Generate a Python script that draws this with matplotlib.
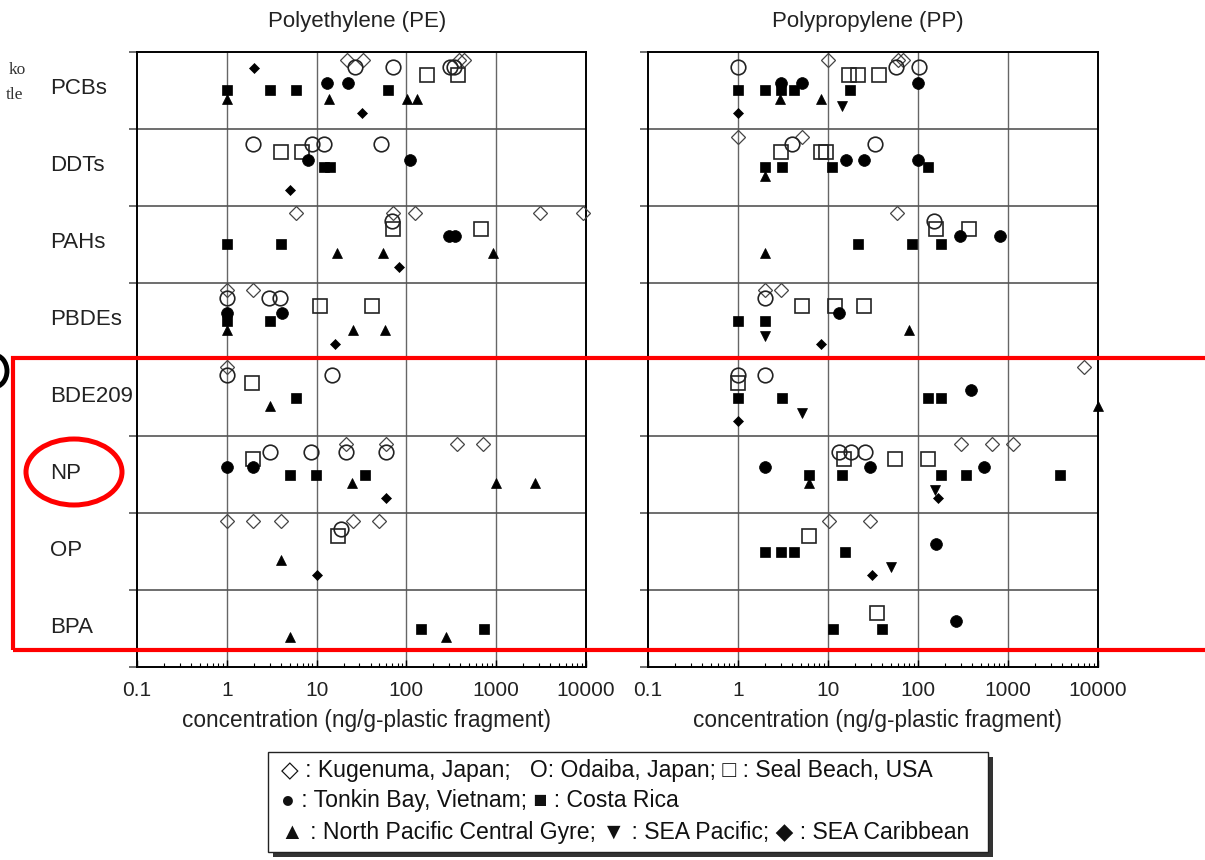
import numpy as np
import matplotlib.pyplot as plt
from matplotlib.patches import Rectangle, Ellipse

plt.rcParams['font.family'] = ['Liberation Sans', 'DejaVu Sans']

W, H = 1205, 860

categories = ['PCBs', 'DDTs', 'PAHs', 'PBDEs', 'BDE209', 'NP', 'OP', 'BPA']
tick_vals = [0.1, 1, 10, 100, 1000, 10000]
tick_labels = ['0.1', '1', '10', '100', '1000', '10000']

# ---- Polyethylene (PE), ng/g-plastic fragment ----
pe_kugenuma = {'PCBs': [22, 33, 385, 433], 'PAHs': [5.9, 71, 126, 3040, 9350],
               'PBDEs': [1, 1.95], 'BDE209': [1], 'NP': [21.5, 59, 366, 708],
               'OP': [1, 1.95, 4.0, 25.7, 50]}
pe_odaiba = {'PCBs': [27, 71, 307, 338], 'DDTs': [1.95, 9.0, 12, 52], 'PAHs': [69],
             'PBDEs': [1, 2.95, 3.9], 'BDE209': [1, 14.7], 'NP': [3.0, 8.7, 21.5, 59],
             'OP': [18.8]}
pe_sealbeach = {'PCBs': [170, 378], 'DDTs': [4.0, 6.8], 'PAHs': [71, 680],
                'PBDEs': [11, 41], 'BDE209': [1.93], 'NP': [1.95], 'OP': [17.3]}
pe_tonkin = {'PCBs': [12.9, 22.6], 'DDTs': [8.0, 109], 'PAHs': [295, 348],
             'PBDEs': [1, 4.1], 'NP': [1, 1.95]}
pe_costarica = {'PCBs': [1, 3.0, 5.9, 62], 'DDTs': [12, 14], 'PAHs': [1, 4.0],
                'PBDEs': [1, 3.0], 'BDE209': [5.9], 'NP': [5.0, 9.9, 34.5],
                'BPA': [144, 738]}
pe_npcg = {'PCBs': [1, 13.8, 102, 130], 'PAHs': [16.8, 55, 930], 'PBDEs': [1, 25.7, 58],
           'BDE209': [3.0], 'NP': [24.5, 1000, 2700], 'OP': [4.0], 'BPA': [5.0, 278]}
pe_seapacific = {}
pe_seacaribbean = {'PCBs': [2.0, 32], 'DDTs': [5.0], 'PAHs': [82], 'PBDEs': [15.9],
                   'NP': [59], 'OP': [10]}

# ---- Polypropylene (PP) ----
pp_kugenuma = {'PCBs': [10, 60, 68], 'DDTs': [1, 5.2], 'PAHs': [58], 'PBDEs': [2.0, 3.0],
               'BDE209': [7000], 'NP': [304, 668, 1137], 'OP': [10.3, 29]}
pp_odaiba = {'PCBs': [1, 56.5, 102], 'DDTs': [4.0, 33], 'PAHs': [150], 'PBDEs': [2.0],
             'BDE209': [1, 2], 'NP': [13.3, 18.2, 25.7]}
pp_sealbeach = {'PCBs': [17.3, 21.8, 37], 'DDTs': [3.0, 8.3, 9.6], 'PAHs': [160, 366],
                'PBDEs': [5.2, 12, 25], 'BDE209': [1], 'NP': [15, 55, 130],
                'OP': [6.2], 'BPA': [35]}
pp_tonkin = {'PCBs': [3.0, 5.1, 100], 'DDTs': [16, 25, 99], 'PAHs': [292, 805],
             'PBDEs': [13.1], 'BDE209': [393], 'NP': [2, 29, 543], 'OP': [158],
             'BPA': [265]}
pp_costarica = {'PCBs': [1, 2.0, 3.0, 4.2, 17.5], 'DDTs': [2, 3.1, 11.1, 128],
                'PAHs': [21.8, 86, 179], 'PBDEs': [1, 2], 'BDE209': [1, 3.1, 130, 182],
                'NP': [6.2, 14.4, 182, 339, 3800], 'OP': [2, 3.0, 4.2, 15.4],
                'BPA': [11.4, 40]}
pp_npcg = {'PCBs': [2.95, 8.3], 'DDTs': [2], 'PAHs': [2], 'PBDEs': [79],
           'BDE209': [10000], 'NP': [6.2]}
pp_seapacific = {'PCBs': [14.3], 'PBDEs': [2], 'BDE209': [5.1], 'NP': [153], 'OP': [50]}
pp_seacaribbean = {'PCBs': [1], 'PBDEs': [8.3], 'BDE209': [1], 'NP': [168], 'OP': [30.7]}

pe_data = [pe_kugenuma, pe_odaiba, pe_sealbeach, pe_tonkin, pe_costarica,
           pe_npcg, pe_seapacific, pe_seacaribbean]
pp_data = [pp_kugenuma, pp_odaiba, pp_sealbeach, pp_tonkin, pp_costarica,
           pp_npcg, pp_seapacific, pp_seacaribbean]

# marker style and vertical place inside a row, per source
styles = [
    dict(marker='D', ms=7.0, mfc='none', mec='#444444', mew=0.9, dy=0.10),
    dict(marker='o', ms=10.5, mfc='none', mec='#222222', mew=1.2, dy=0.20),
    dict(marker='s', ms=9.5, mfc='none', mec='#222222', mew=1.2, dy=0.30),
    dict(marker='o', ms=8.5, mfc='black', mec='black', mew=0.5, dy=0.40),
    dict(marker='s', ms=7.5, mfc='black', mec='black', mew=0.5, dy=0.50),
    dict(marker='^', ms=7.5, mfc='black', mec='black', mew=0.5, dy=0.61),
    dict(marker='v', ms=7.5, mfc='black', mec='black', mew=0.5, dy=0.70),
    dict(marker='D', ms=4.8, mfc='black', mec='black', mew=0.5, dy=0.80),
]

fig = plt.figure(figsize=(W / 100, H / 100), dpi=100)

def add_panel(x0, x1, data, title, raised=()):
    ax = fig.add_axes([x0 / W, 1 - 667 / H, (x1 - x0) / W, (667 - 52) / H])
    ax.set_xscale('log')
    ax.set_xlim(0.1, 10000)
    ax.set_ylim(len(categories), 0)
    for v in tick_vals[1:-1]:
        ax.axvline(v, color='#666666', lw=1.0, zorder=1)
    for k in range(1, len(categories)):
        ax.axhline(k, color='#555555', lw=1.2, zorder=1)
    for src, st in zip(data, styles):
        st = dict(st)
        dy = st.pop('dy')
        for i, cat in enumerate(categories):
            for v in src.get(cat, []):
                y = i + dy
                if (cat, v) in raised:
                    y = i + 0.21
                ax.plot(v, y, ls='none', clip_on=False, zorder=3, **st)
    ax.set_xticks(tick_vals)
    ax.set_xticklabels(tick_labels, fontsize=15, color='#222222')
    ax.tick_params(axis='x', which='major', direction='in', length=5, width=1, pad=10)
    ax.tick_params(axis='x', which='minor', direction='in', length=3, width=0.8)
    ax.set_yticks(np.arange(len(categories) + 1))
    ax.set_yticklabels([])
    ax.tick_params(axis='y', direction='out', length=6, width=1.2, color='#555555')
    for s in ax.spines.values():
        s.set_linewidth(1.4)
    fig.text((x0 + x1) / 2 / W - 0.004, 1 - 21 / H, title, ha='center', va='center',
             fontsize=16, color='#222222')
    fig.text((x0 + x1) / 2 / W + 0.004, 1 - 720 / H,
             'concentration (ng/g-plastic fragment)', ha='center', va='center',
             fontsize=16.3, color='#222222')
    return ax

add_panel(137, 586, pe_data, 'Polyethylene (PE)', raised={('PCBs', 2.0)})
add_panel(648, 1098, pp_data, 'Polypropylene (PP)')

# row names
for i, cat in enumerate(categories):
    yc = 52 + (i + 0.48) * (615 / len(categories))
    fig.text(50 / W, 1 - yc / H, cat, ha='left', va='center', fontsize=16,
             color='#222222')

# legend box with shadow
lx0, ly0, lx1, ly1 = 268, 752, 988, 852
fig.patches.append(Rectangle(((lx0 + 5) / W, 1 - (ly1 + 5) / H), (lx1 - lx0) / W,
                             (ly1 - ly0) / H, transform=fig.transFigure,
                             facecolor='#333333', edgecolor='none', zorder=1))
fig.patches.append(Rectangle((lx0 / W, 1 - ly1 / H), (lx1 - lx0) / W, (ly1 - ly0) / H,
                             transform=fig.transFigure, facecolor='white',
                             edgecolor='#222222', lw=1.0, zorder=2))
legend_lines = [
    '\u25c7 : Kugenuma, Japan;   O: Odaiba, Japan; \u25a1 : Seal Beach, USA',
    '\u25cf : Tonkin Bay, Vietnam; \u25a0 : Costa Rica',
    '\u25b2 : North Pacific Central Gyre; \u25bc : SEA Pacific; \u25c6 : SEA Caribbean',
]
for k, line in enumerate(legend_lines):
    fig.text(281 / W, 1 - (770 + 31 * k) / H, line, ha='left', va='center',
             fontsize=16.6, color='#111111', zorder=3)

# red highlight marks
fig.patches.append(Rectangle((13 / W, 1 - 650 / H), 1200 / W, (650 - 358) / H,
                             transform=fig.transFigure, facecolor='none',
                             edgecolor='#ff0000', lw=3.0, zorder=5))
fig.patches.append(Ellipse((74 / W, 1 - 472 / H), 96 / W, 66 / H,
                           transform=fig.transFigure, facecolor='none',
                           edgecolor='#ff0000', lw=3.6, zorder=5))
fig.patches.append(Ellipse((-6 / W, 1 - 371 / H), 26 / W, 32 / H,
                           transform=fig.transFigure, facecolor='none',
                           edgecolor='black', lw=3.5, zorder=5))

# cut-off text at the left edge
fig.text(26 / W, 1 - 70 / H, 'ko', ha='right', va='center', fontsize=12.5,
         family='Liberation Serif', color='#333333')
fig.text(23 / W, 1 - 95 / H, 'tle', ha='right', va='center', fontsize=12.5,
         family='Liberation Serif', color='#333333')

fig.savefig('out.png', dpi=100)
